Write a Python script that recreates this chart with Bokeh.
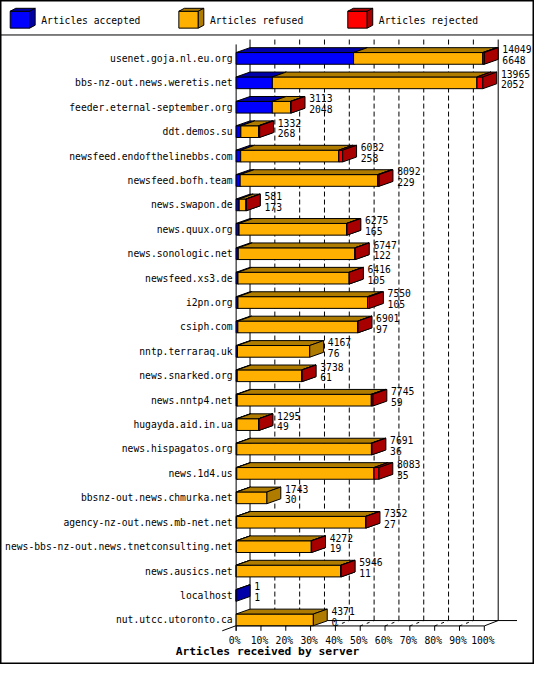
from bokeh.plotting import figure
from bokeh.models import Range1d
from bokeh.core.properties import value
from bokeh.embed import file_html
from bokeh.resources import INLINE

# ---------------- data ----------------
hosts = [
    "usenet.goja.nl.eu.org",
    "bbs-nz-out.news.weretis.net",
    "feeder.eternal-september.org",
    "ddt.demos.su",
    "newsfeed.endofthelinebbs.com",
    "newsfeed.bofh.team",
    "news.swapon.de",
    "news.quux.org",
    "news.sonologic.net",
    "newsfeed.xs3.de",
    "i2pn.org",
    "csiph.com",
    "nntp.terraraq.uk",
    "news.snarked.org",
    "news.nntp4.net",
    "hugayda.aid.in.ua",
    "news.hispagatos.org",
    "news.1d4.us",
    "bbsnz-out.news.chmurka.net",
    "agency-nz-out.news.mb-net.net",
    "news-bbs-nz-out.news.tnetconsulting.net",
    "news.ausics.net",
    "localhost",
    "nut.utcc.utoronto.ca",
]
accepted = [6648, 2052, 2048, 268, 258, 229, 173, 165, 122, 105, 105, 97,
            76, 61, 59, 49, 36, 35, 30, 27, 19, 11, 1, 0]
refused = [7321, 11583, 1035, 1004, 5554, 7793, 388, 6090, 6605, 6296, 7345, 6789,
           4091, 3662, 7596, 1236, 7625, 7773, 1713, 7310, 4238, 5920, 0, 4371]
rejected = [80, 330, 30, 60, 220, 70, 20, 20, 20, 15, 100, 15,
            0, 15, 90, 10, 30, 275, 0, 15, 15, 15, 0, 0]
series_names = ["Articles accepted", "Articles refused", "Articles rejected"]
front_colors = ["#0000FF", "#FFB000", "#FF0000"]
dark_colors = ["#0000A8", "#B07C00", "#A80000"]
tick_values = [0, 10, 20, 30, 40, 50, 60, 70, 80, 90, 100]
tick_labels = ["0%", "10%", "20%", "30%", "40%", "50%", "60%", "70%", "80%", "90%", "100%"]
axis_title = "Articles received by server"

offered = [a + f + r for a, f, r in zip(accepted, refused, rejected)]
MAXV = max(offered)

# ---------------- layout (reference pixel geometry) ----------------
W, H = 534, 664
REF_W, REF_H = 550, 680
X0, PX_PER_PCT = 242.7, 2.556
Y0, PX_PER_ROW = 59.3, 25.0


def X(px):
    return (px - X0) / PX_PER_PCT


def Y(py):
    return (py - Y0) / PX_PER_ROW


DX = 14.3 / PX_PER_PCT   # depth, in percent units
DY = 5.0 / PX_PER_ROW    # depth, in row units
HH = 6.0 / PX_PER_ROW    # half height of bar front

FONT = value("DejaVu Sans Mono")

p = figure(width=W, height=H,
           x_range=Range1d(X(0), X(REF_W)),
           y_range=Range1d(Y(REF_H), Y(0)),
           output_backend="svg", toolbar_location=None,
           x_axis_location=None, y_axis_location=None,
           min_border=0)
p.grid.visible = False
p.outline_line_color = "black"
p.outline_line_width = 2
p.background_fill_color = "white"
p.border_fill_color = "white"

# separator under legend
p.segment(x0=[X(0)], y0=[Y(35.3)], x1=[X(REF_W)], y1=[Y(35.3)], line_color="black", line_width=1)

# ---------------- walls / floor ----------------
top_wall = Y(40)
floor_back = Y(635)
floor_front = Y(640.5)
tick_end = Y(645.5)

sx0 = [0, DX, 100 + DX, 0, DX, 100, DX]
sy0 = [Y(45), top_wall, top_wall, floor_front, floor_back, floor_front, floor_back]
sx1 = [0, DX, 100 + DX, 100, X(532), 100 + DX, -DX]
sy1 = [tick_end, floor_back, floor_back, floor_front, floor_back, floor_back, tick_end]
p.segment(x0=sx0, y0=sy0, x1=sx1, y1=sy1, line_color="black", line_width=1)

# ticks below the floor
p.segment(x0=tick_values, y0=[floor_front] * len(tick_values),
          x1=tick_values, y1=[tick_end] * len(tick_values),
          line_color="black", line_width=1)

inner = tick_values[1:-1]
# dashed gridlines on the back wall
p.segment(x0=[t + DX for t in inner], y0=[top_wall] * len(inner),
          x1=[t + DX for t in inner], y1=[floor_back] * len(inner),
          line_color="black", line_width=1, line_dash="5 3")
# dashed floor diagonals
p.segment(x0=inner, y0=[floor_front] * len(inner),
          x1=[t + DX for t in inner], y1=[floor_back] * len(inner),
          line_color="black", line_width=1, line_dash="3 4")

# ---------------- 3D bars ----------------
xs, ys, fills = [], [], []
for i in range(len(hosts)):
    vals = [accepted[i], refused[i], rejected[i]]
    start = 0.0
    top, bot = i - HH, i + HH
    for k, v in enumerate(vals):
        if v <= 0:
            continue
        x0 = start / MAXV * 100
        x1 = (start + v) / MAXV * 100
        start += v
        # front
        xs.append([x0, x0, x1, x1]); ys.append([bot, top, top, bot]); fills.append(front_colors[k])
        # top face
        xs.append([x0, x0 + DX, x1 + DX, x1]); ys.append([top, top - DY, top - DY, top]); fills.append(dark_colors[k])
        # right side
        xs.append([x1, x1 + DX, x1 + DX, x1]); ys.append([top, top - DY, bot - DY, bot]); fills.append(dark_colors[k])
p.patches(xs=xs, ys=ys, fill_color=fills, line_color="black", line_width=1)

# host labels
rows = list(range(len(hosts)))
p.text(x=[X(239)] * len(hosts), y=rows, text=hosts, text_align="right",
       text_baseline="middle", text_font=FONT, text_font_size="9.7px", text_color="black")

# value labels (offered / accepted)
ends = [o / MAXV * 100 + 18.6 / PX_PER_PCT for o in offered]
p.text(x=ends, y=[r - 9.3 / PX_PER_ROW for r in rows], text=[str(o) for o in offered],
       text_align="left", text_baseline="middle", text_font=FONT,
       text_font_size="9.7px", text_color="black")
p.text(x=ends, y=[r + 1.7 / PX_PER_ROW for r in rows], text=[str(a) for a in accepted],
       text_align="left", text_baseline="middle", text_font=FONT,
       text_font_size="9.7px", text_color="black")

# x tick labels
p.text(x=[t - 1.5 / PX_PER_PCT for t in tick_values], y=[Y(655)] * len(tick_values),
       text=tick_labels, text_align="center", text_baseline="middle",
       text_font=FONT, text_font_size="9.7px", text_color="black")

# axis title
p.text(x=[X(REF_W / 2)], y=[Y(666.7)], text=[axis_title], text_align="center",
       text_baseline="middle", text_font=FONT, text_font_size="11.3px",
       text_font_style="bold", text_color="black")

# ---------------- legend (3D cubes) ----------------
leg_x = [10.0, 183.7, 357.7]
lxs, lys, lfill = [], [], []
for k in range(3):
    fx0, fx1 = X(leg_x[k]), X(leg_x[k] + 20)
    fy0, fy1 = Y(11), Y(28.3)
    ddx, ddy = 5.7 / PX_PER_PCT, 3.0 / PX_PER_ROW
    lxs.append([fx0, fx0, fx1, fx1]); lys.append([fy1, fy0, fy0, fy1]); lfill.append(front_colors[k])
    lxs.append([fx0, fx0 + ddx, fx1 + ddx, fx1]); lys.append([fy0, fy0 - ddy, fy0 - ddy, fy0]); lfill.append(dark_colors[k])
    lxs.append([fx1, fx1 + ddx, fx1 + ddx, fx1]); lys.append([fy0, fy0 - ddy, fy1 - ddy, fy1]); lfill.append(dark_colors[k])
p.patches(xs=lxs, ys=lys, fill_color=lfill, line_color="black", line_width=1)
p.text(x=[X(lx + 32) for lx in leg_x], y=[Y(20)] * 3, text=series_names,
       text_align="left", text_baseline="middle", text_font=FONT,
       text_font_size="9.7px", text_color="black")

open("out.html", "w").write(file_html(p, INLINE))
